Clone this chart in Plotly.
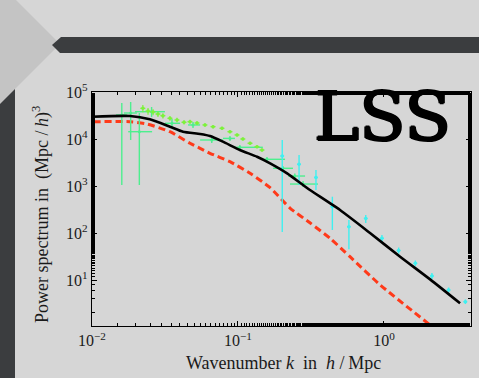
import plotly.graph_objects as go

# ---- theory curves: P(k) in (Mpc/h)^3 vs k in h/Mpc ----
nl_k = [0.0100, 0.0182, 0.0249, 0.0342, 0.0420, 0.0550, 0.0643, 0.0789, 0.103, 0.135,
        0.166, 0.217, 0.279, 0.311, 0.500, 0.802, 1.29, 2.07, 3.32]
nl_p = [29800, 30800, 26200, 18300, 14300, 12800, 11600, 8770, 5830, 4200,
        3040, 1860, 1050, 822, 308, 100, 31.3, 10.3, 3.19]

lin_k = [0.0102, 0.0182, 0.0238, 0.0342, 0.0469, 0.0550, 0.0643, 0.0881, 0.121, 0.166,
         0.227, 0.311, 0.427, 0.585, 0.940, 2.13]
lin_p = [23300, 23300, 20800, 14300, 8110, 6340, 4970, 3290, 1860, 920,
         340, 165, 77.1, 31.3, 7.91, 1.03]

# ---- galaxy survey band powers (dense) ----
gal_k = [0.0223, 0.0242, 0.0262, 0.0283, 0.0306, 0.0342, 0.0382, 0.0427, 0.0469, 0.0524,
         0.0594, 0.0675, 0.0777, 0.0881, 0.0985, 0.108, 0.121, 0.135, 0.146]
gal_p = [45000, 39400, 37600, 34000, 31300, 27600, 25400, 22700, 23300, 21900,
         19900, 18300, 16900, 14300, 12200, 10000, 8110, 6860, 5830]
gal_err = [8000, 6500, 5500, 4500, 4000, 3200, 2800, 2400, 2300, 2000,
           1700, 1500, 1300, 1100, 900, 750, 600, 500, 450]

# ---- wide-bin survey points ----
bin_k = [0.0160, 0.0184, 0.0211, 0.0256, 0.0353, 0.0492, 0.0661, 0.0881, 0.103,
         0.158, 0.203, 0.245, 0.279]
bin_klo = [0.0146, 0.01655, 0.0177, 0.0197, 0.0316, 0.0455, 0.0550, 0.0789, 0.0953,
           0.146, 0.174, 0.220, 0.227]
bin_khi = [0.0174, 0.0203, 0.0258, 0.0316, 0.0401, 0.0550, 0.0789, 0.0953, 0.148,
           0.210, 0.238, 0.288, 0.353]
bin_p = [32400, 35700, 14300, 38100, 21600, 19900, 9520, 10300, 6660, 3700, 2380, 1630, 1100]
bin_plo = [1050, 9520, 1050, 29400, 17100, 17100, 8220, 9070, 5830, 3240, 2090, 1440, 953]
bin_phi = [58300, 61300, 35700, 48000, 26600, 23000, 11000, 11600, 7450, 4140, 2670, 1840, 1280]

# ---- small-scale probes ----
ss_k = [0.201, 0.262, 0.342, 0.443, 0.575, 0.750, 0.968, 1.26, 1.64, 2.13, 2.77, 3.61]
ss_p = [4350, 2900, 1520, 363, 136, 204, 77.1, 42.4, 22.7, 12.2, 6.12, 3.45]
ss_plo = [105, 1050, 822, 116, 45.0, 163, 64.4, 36.6, 19.9, 10.5, 5.42, 3.08]
ss_phi = [9520, 4570, 2190, 592, 189, 242, 90.6, 49.1, 26.0, 14.1, 6.92, 3.85]

x_ticks = [0.01, 0.1, 1]
x_ticktext = ["10<sup>\u22122</sup>", "10<sup>\u22121</sup>", "10<sup>0</sup>"]
y_ticks = [10, 100, 1e3, 1e4, 1e5]
y_ticktext = ["10<sup>1</sup>", "10<sup>2</sup>", "10<sup>3</sup>", "10<sup>4</sup>", "10<sup>5</sup>"]

W, H = 479, 378
L, R, T, B = 92, 471, 92, 326  # plot area in pixels


def px(x):
    return (x - L) / (R - L)


def py(y):
    return (B - y) / (B - T)


PANEL = "#d6d6d6"
CHEVRON = "#c4c4c4"
DARK = "#3b3d3f"
SERIF = "Liberation Serif"
INK = "#1a1a1a"

fig = go.Figure()

fig.add_trace(go.Scatter(
    x=lin_k, y=lin_p, mode="lines",
    line=dict(color="#ff3a1a", width=3, dash="7px,4px", shape="spline", smoothing=0.6),
))
fig.add_trace(go.Scatter(
    x=bin_k, y=bin_p, mode="markers",
    marker=dict(color="#4def8e", size=3),
    error_y=dict(type="data", symmetric=False,
                 array=[h - p for h, p in zip(bin_phi, bin_p)],
                 arrayminus=[p - l for p, l in zip(bin_p, bin_plo)],
                 color="#4def8e", thickness=1.4, width=0),
    error_x=dict(type="data", symmetric=False,
                 array=[h - k for h, k in zip(bin_khi, bin_k)],
                 arrayminus=[k - l for k, l in zip(bin_k, bin_klo)],
                 color="#4def8e", thickness=1.4, width=0),
))
fig.add_trace(go.Scatter(
    x=gal_k, y=gal_p, mode="markers",
    marker=dict(color="#7cf23a", size=3.5),
    error_y=dict(type="data", array=gal_err, color="#7cf23a", thickness=1.2, width=0),
    error_x=dict(type="percent", value=4, color="#7cf23a", thickness=1.2, width=0),
))
fig.add_trace(go.Scatter(
    x=ss_k, y=ss_p, mode="markers",
    marker=dict(color="#3ff0f0", size=3.5),
    error_y=dict(type="data", symmetric=False,
                 array=[h - p for h, p in zip(ss_phi, ss_p)],
                 arrayminus=[p - l for p, l in zip(ss_p, ss_plo)],
                 color="#3ff0f0", thickness=1.4, width=0),
    error_x=dict(type="percent", value=3, color="#3ff0f0", thickness=1.4, width=0),
))
fig.add_trace(go.Scatter(
    x=nl_k, y=nl_p, mode="lines",
    line=dict(color="black", width=2.6, shape="spline", smoothing=0.6),
))

axis_common = dict(
    type="log", showgrid=False, zeroline=False,
    showline=True, linecolor="black", linewidth=1.3, mirror="allticks",
    ticks="inside", ticklen=5, tickwidth=1, tickcolor="black",
    minor=dict(ticks="inside", ticklen=3, tickwidth=1, tickcolor="black", showgrid=False),
    tickfont=dict(family=SERIF, size=16, color=INK),
)

fig.update_xaxes(**axis_common, range=[-2, 0.596],
                 tickmode="array", tickvals=x_ticks, ticktext=x_ticktext)
fig.update_yaxes(**axis_common, range=[0.0213, 5],
                 tickmode="array", tickvals=y_ticks, ticktext=y_ticktext)

# slide decorations around the chart
shapes = [
    dict(type="rect", xref="paper", yref="paper", layer="below",
         x0=px(-5), x1=px(15), y0=py(385), y1=py(60),
         fillcolor=DARK, line=dict(width=0)),
    dict(type="path", xref="paper", yref="paper", layer="below",
         path=f"M {px(-5)},{py(-5)} L {px(11)},{py(-5)} L {px(60)},{py(44)} "
              f"L {px(16)},{py(88)} L {px(-5)},{py(109)} Z",
         fillcolor=CHEVRON, line=dict(width=0)),
    dict(type="path", xref="paper", yref="paper", layer="below",
         path=f"M {px(485)},{py(37)} L {px(61)},{py(37)} L {px(52)},{py(45)} "
              f"L {px(60)},{py(53)} L {px(485)},{py(53)} Z",
         fillcolor=DARK, line=dict(width=0)),
]

heavy = ("1.2px 0px 0px black, -1.2px 0px 0px black, "
         "0px 1.2px 0px black, 0px -1.2px 0px black")

annotations = [
    dict(text="Wavenumber <i>k</i>\u00a0 in \u00a0<i>h</i> /\u2009Mpc",
         xref="paper", yref="paper", x=px(283), y=py(363),
         xanchor="center", yanchor="middle", showarrow=False,
         font=dict(family=SERIF, size=18, color=INK)),
    dict(text="Power spectrum in\u00a0 (Mpc /\u2009<i>h</i>)<sup>3</sup>",
         xref="paper", yref="paper", x=px(41), y=py(215), textangle=-90,
         xanchor="center", yanchor="middle", showarrow=False,
         font=dict(family=SERIF, size=18, color=INK)),
    dict(text="LSS", xref="paper", yref="paper",
         x=px(382), y=py(117), xanchor="center", yanchor="middle",
         showarrow=False,
         font=dict(family="DejaVu Serif", size=68, color="black", shadow=heavy)),
]

fig.update_layout(
    width=W, height=H,
    margin=dict(l=L, r=W - R, t=T, b=H - B),
    paper_bgcolor=PANEL, plot_bgcolor=PANEL,
    showlegend=False,
    shapes=shapes,
    annotations=annotations,
)

fig.write_html("out.html")
